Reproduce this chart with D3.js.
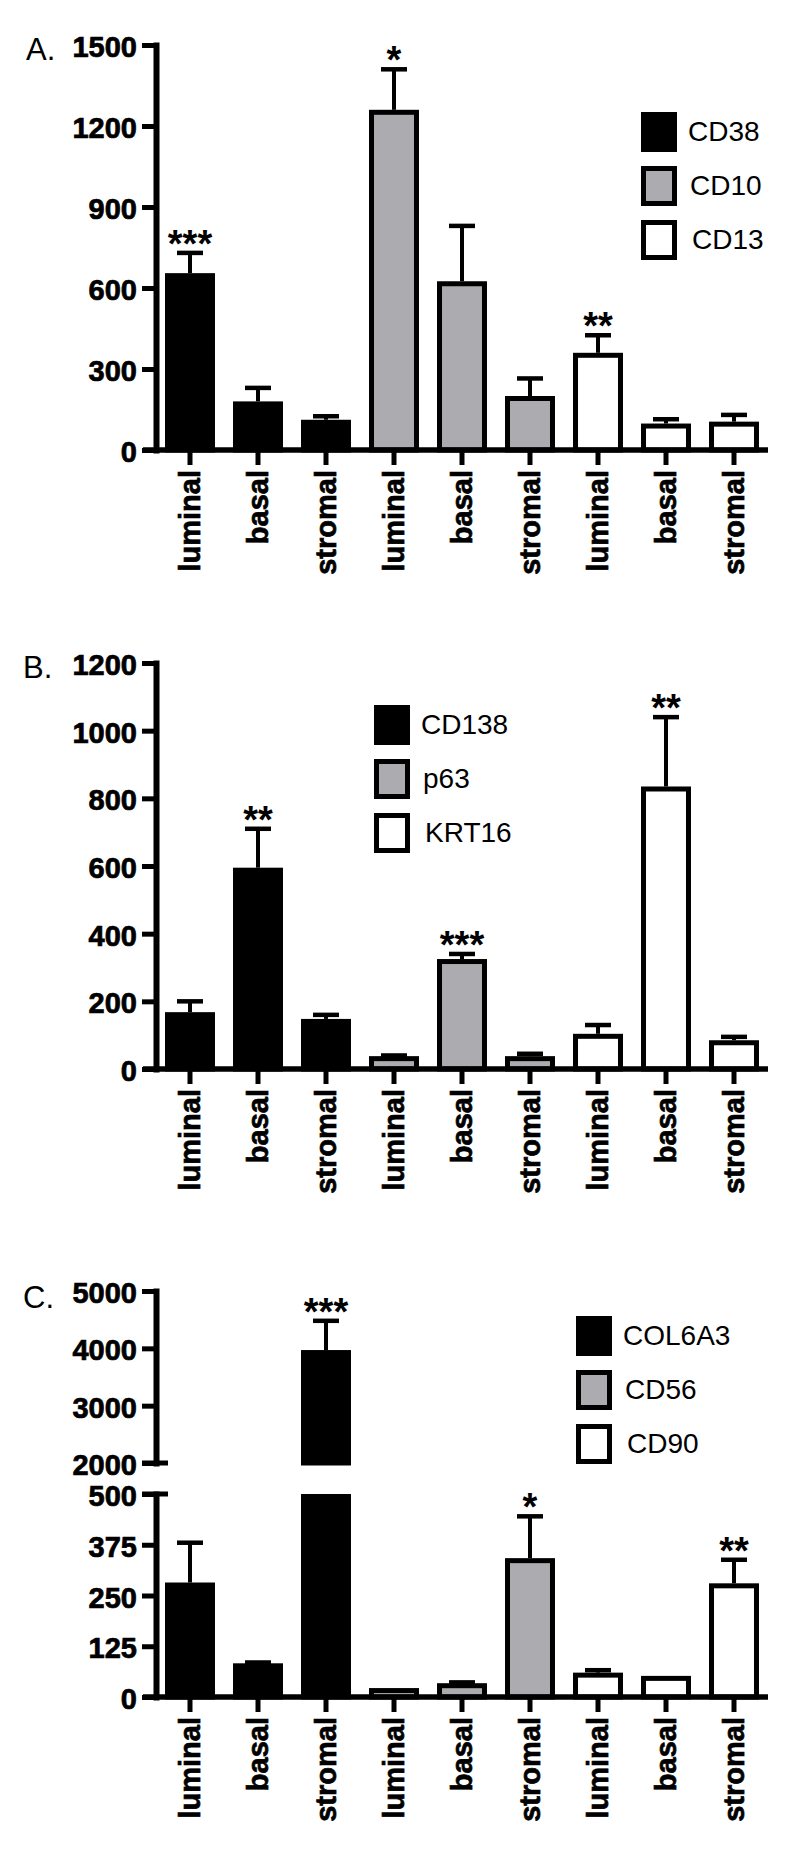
<!DOCTYPE html>
<html>
<head>
<meta charset="utf-8">
<title>Marker expression by cell fraction</title>
<style>
body {
    margin: 0px;
    overflow: hidden;
    background: #fff;
}
text {
    font-family: "Liberation Sans", Arial, sans-serif;
}
</style>
<script src="https://cdnjs.cloudflare.com/ajax/libs/d3/7.8.5/d3.min.js"></script>
</head>
<body>
<div id="chart"></div>
<script>

// same nine cell fractions in every panel
var categories = ["luminal", "basal", "stromal", "luminal", "basal", "stromal", "luminal", "basal", "stromal"];
var fills = ["#000", "#acacb0", "#fff"];

// panel A
var seriesA = ["CD38", "CD10", "CD13"];
var valuesA = [655, 180, 112, 1260, 625, 200, 360, 98, 105];
var semA = [75, 50, 13, 150, 205, 65, 65, 16, 25];
var starsA = ["***", "", "", "*", "", "", "**", "", ""];
var ticksA = [0, 300, 600, 900, 1200, 1500];

// panel B
var seriesB = ["CD138", "p63", "KRT16"];
var valuesB = [168, 595, 148, 38, 325, 38, 104, 835, 85];
var semB = [32, 115, 12, 2, 15, 7, 26, 205, 10];
var starsB = ["", "**", "", "", "***", "", "", "**", ""];
var ticksB = [0, 200, 400, 600, 800, 1000, 1200];

// panel C (broken axis)
var seriesC = ["COL6A3", "CD56", "CD90"];
var valuesC = [282, 83, 3970, 22, 34, 342, 60, 52, 280];
var semC = [98, 2, 510, 1, 2, 103, 6, 0, 58];
var starsC = ["", "", "***", "", "", "*", "", "", "**"];
var ticksCLow = [0, 125, 250, 375, 500];
var ticksCHigh = [2000, 3000, 4000, 5000];

var W = 799, H = 1868;
var axisX = 156, axisEnd = 768;
var bw = 5; // outline width

var svg = d3.select("#chart").append("svg")
    .attr("width", W)
    .attr("height", H);

var x = d3.scaleBand()
    .domain(d3.range(categories.length))
    .range([axisX, axisEnd])
    .paddingInner(0.265)
    .paddingOuter(0.1325);

function boldText(sel, size) {
    sel.attr("font-size", size)
        .attr("font-weight", "bold")
        .attr("fill", "#000")
        .attr("stroke", "#000")
        .attr("stroke-width", 0.7)
        .attr("font-family", "Liberation Sans, Arial, sans-serif");
}

function yAxis(g, y, ticks) {
    var ax = g.append("g")
        .attr("transform", "translate(" + axisX + ",0)")
        .call(d3.axisLeft(y).tickValues(ticks).tickSize(14).tickSizeOuter(0).tickPadding(5).tickFormat(d3.format("d")));
    ax.select(".domain").attr("stroke-width", 6).attr("stroke-linecap", "square");
    ax.selectAll(".tick line").attr("stroke-width", 5);
    boldText(ax.selectAll(".tick text").attr("dy", "0.4em"), 29);
    return ax;
}

function xAxis(g, y0) {
    g.append("line")
        .attr("x1", axisX - 13).attr("x2", axisEnd)
        .attr("y1", y0).attr("y2", y0)
        .attr("stroke", "#000").attr("stroke-width", 5.5);
    var ax = g.append("g")
        .attr("transform", "translate(0," + y0 + ")")
        .call(d3.axisBottom(x).tickSize(15).tickSizeOuter(0).tickFormat(function (i) { return categories[i]; }));
    ax.select(".domain").remove();
    ax.selectAll(".tick line").attr("stroke-width", 5);
    boldText(ax.selectAll(".tick text")
        .attr("transform", "rotate(-90)")
        .attr("text-anchor", "end")
        .attr("x", -20)
        .attr("y", 0)
        .attr("dy", "0.36em"), 29);
}

function cx(i) { return x(i) + x.bandwidth() / 2; }

function bar(g, i, yTop, yBot) {
    g.append("rect")
        .attr("x", x(i) + bw / 2)
        .attr("width", x.bandwidth() - bw)
        .attr("y", yTop + bw / 2)
        .attr("height", Math.max(0, yBot - yTop - bw / 2))
        .attr("fill", fills[Math.floor(i / 3)])
        .attr("stroke", "#000")
        .attr("stroke-width", bw);
}

function errBar(g, i, yv, ye, star) {
    if (ye < yv - 0.5) {
        g.append("line")
            .attr("x1", cx(i)).attr("x2", cx(i))
            .attr("y1", yv).attr("y2", ye)
            .attr("stroke", "#000").attr("stroke-width", 4);
        g.append("line")
            .attr("x1", cx(i) - 13).attr("x2", cx(i) + 13)
            .attr("y1", ye).attr("y2", ye)
            .attr("stroke", "#000").attr("stroke-width", 4.5);
    }
    if (star) {
        g.append("text")
            .attr("x", cx(i))
            .attr("y", ye + 4)
            .attr("text-anchor", "middle")
            .attr("font-size", 38)
            .attr("font-weight", "bold")
            .text(star);
    }
}

function bars(g, values, sem, stars, y) {
    values.forEach(function (v, i) {
        bar(g, i, y(v), y(0));
        errBar(g, i, y(v), y(v + sem[i]), stars[i]);
    });
}

function legend(g, names, lx, ly) {
    var row = g.selectAll("g.leg").data(names).enter().append("g")
        .attr("class", "leg")
        .attr("transform", function (d, i) { return "translate(" + lx + "," + (ly + i * 54) + ")"; });
    row.append("rect")
        .attr("x", bw / 2).attr("y", bw / 2)
        .attr("width", 36 - bw).attr("height", 40 - bw)
        .attr("fill", function (d, i) { return fills[i]; })
        .attr("stroke", "#000").attr("stroke-width", bw);
    row.append("text")
        .attr("x", function (d, i) { return 47 + i * 2; })
        .attr("y", 29)
        .attr("font-size", 28)
        .text(function (d) { return d; });
}

function panelLabel(g, t, lx, ly) {
    g.append("text").attr("x", lx).attr("y", ly).attr("font-size", 31).text(t);
}

// ---- A ----
var gA = svg.append("g");
var yA = d3.scaleLinear().domain([0, 1500]).range([450, 45]);
bars(gA, valuesA, semA, starsA, yA);
yAxis(gA, yA, ticksA);
xAxis(gA, yA(0));
legend(gA, seriesA, 641, 112);
panelLabel(gA, "A.", 26, 60);

// ---- B ----
var gB = svg.append("g");
var yB = d3.scaleLinear().domain([0, 1200]).range([1069, 663]);
bars(gB, valuesB, semB, starsB, yB);
yAxis(gB, yB, ticksB);
xAxis(gB, yB(0));
legend(gB, seriesB, 374, 705);
panelLabel(gB, "B.", 23, 678);

// ---- C ----
var gC = svg.append("g");
var yCLow = d3.scaleLinear().domain([0, 500]).range([1697, 1494]);
var yCHigh = d3.scaleLinear().domain([2000, 5000]).range([1463, 1291]);
valuesC.forEach(function (v, i) {
    if (v > 500) {
        // tall bar: lower piece clipped at 500, upper piece from 2000
        bar(gC, i, yCLow(500), yCLow(0));
        bar(gC, i, yCHigh(v), yCHigh(2000));
        errBar(gC, i, yCHigh(v), yCHigh(v + semC[i]), starsC[i]);
    } else {
        bar(gC, i, yCLow(v), yCLow(0));
        errBar(gC, i, yCLow(v), yCLow(v + semC[i]), starsC[i]);
    }
});
yAxis(gC, yCLow, ticksCLow);
yAxis(gC, yCHigh, ticksCHigh);
// break ticks reach across the axis
[yCHigh(2000), yCLow(500)].forEach(function (yy) {
    gC.append("line").attr("x1", axisX - 14).attr("x2", axisX + 12)
        .attr("y1", yy).attr("y2", yy)
        .attr("stroke", "#000").attr("stroke-width", 5);
});
xAxis(gC, yCLow(0));
legend(gC, seriesC, 576, 1316);
panelLabel(gC, "C.", 23, 1308);

</script>
</body>
</html>
